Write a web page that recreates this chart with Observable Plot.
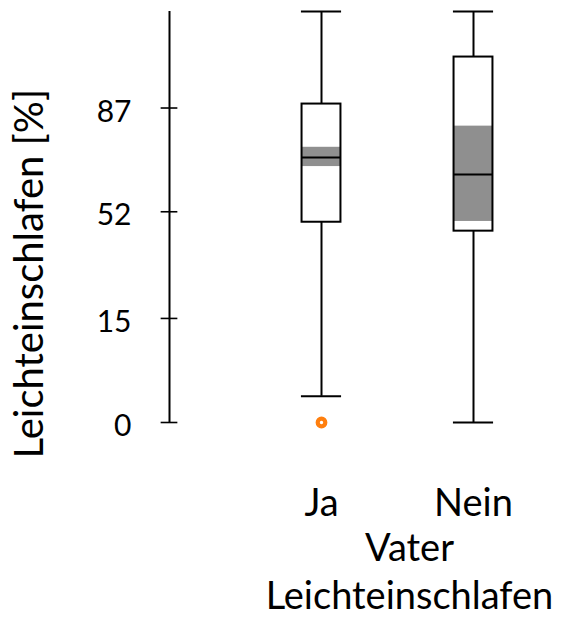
<!DOCTYPE html>
<html>
<head>
<meta charset="utf-8">
<script src="https://cdn.jsdelivr.net/npm/d3@7"></script>
<script src="https://cdn.jsdelivr.net/npm/@observablehq/plot@0.6"></script>
<style>
  html, body { margin: 0; padding: 0; background: white; }
</style>
</head>
<body>
<div id="chart"></div>
<script>
// ---- data (values in %) ----
const categories = ["Ja", "Nein"];
const whiskerLow  = [1, 0];
const quartile1   = [48, 44.6];
const median      = [72, 66];
const quartile3   = [88, 97];
const whiskerHigh = [100, 100];
const notchLow    = [68.8, 48.3];
const notchHigh   = [75.4, 82];
const outlierCategory = ["Ja"];
const outlierValue    = [0];
const yTickValues = [0, 15, 52, 87];
const yTitle = "Leichteinschlafen [%]";
const xTitle = "Vater\nLeichteinschlafen";

// arcsine-square-root transform used for the vertical axis
const T = p => Math.asin(Math.sqrt(p / 100));

const boxes = categories.map((c, i) => ({
  pos: i + 1, lo: whiskerLow[i], q1: quartile1[i], med: median[i],
  q3: quartile3[i], hi: whiskerHigh[i], nlo: notchLow[i], nhi: notchHigh[i]
}));
const outliers = outlierCategory.map((c, i) => ({pos: categories.indexOf(c) + 1, v: outlierValue[i]}));

const hw = 0.128;   // half box width (x units)
const cw = 0.132;   // half cap width
const tk = 0.055;   // half axis tick length

const chart = Plot.plot({
  width: 563,
  height: 618,
  marginLeft: 169,
  marginRight: 14,
  marginTop: 11,
  marginBottom: 196,
  x: {domain: [0, 2.5], axis: null},
  y: {domain: [0, Math.PI / 2], axis: null},
  style: {fontFamily: "Lato, 'Open Sans', sans-serif", background: "white", color: "black"},
  marks: [
    // y axis line and ticks
    Plot.ruleX([0], {y1: 0, y2: Math.PI / 2, stroke: "black", strokeWidth: 2}),
    Plot.ruleY(yTickValues, {y: d => T(d), x1: -tk, x2: tk, stroke: "black", strokeWidth: 1.6}),
    Plot.text(yTickValues, {y: d => T(d), x: 0, text: d => String(d), textAnchor: "end", dx: -38, dy: 4, fontSize: 30, fill: "black"}),
    // whiskers
    Plot.ruleX(boxes, {x: "pos", y1: d => T(d.q3), y2: d => T(d.hi), stroke: "black", strokeWidth: 2}),
    Plot.ruleX(boxes, {x: "pos", y1: d => T(d.lo), y2: d => T(d.q1), stroke: "black", strokeWidth: 2}),
    Plot.ruleY(boxes, {y: d => T(d.hi), x1: d => d.pos - cw, x2: d => d.pos + cw, stroke: "black", strokeWidth: 2}),
    Plot.ruleY(boxes, {y: d => T(d.lo), x1: d => d.pos - cw, x2: d => d.pos + cw, stroke: "black", strokeWidth: 2}),
    // box
    Plot.rect(boxes, {x1: d => d.pos - hw, x2: d => d.pos + hw, y1: d => T(d.q1), y2: d => T(d.q3), fill: "white"}),
    Plot.rect(boxes, {x1: d => d.pos - hw, x2: d => d.pos + hw, y1: d => T(Math.max(d.nlo, d.q1)), y2: d => T(Math.min(d.nhi, d.q3)), fill: "#8f8f8f"}),
    Plot.rect(boxes, {x1: d => d.pos - hw, x2: d => d.pos + hw, y1: d => T(d.q1), y2: d => T(d.q3), fill: "none", stroke: "black", strokeWidth: 2}),
    Plot.ruleY(boxes, {y: d => T(d.med), x1: d => d.pos - hw, x2: d => d.pos + hw, stroke: "black", strokeWidth: 2}),
    // outliers
    Plot.dot(outliers, {x: "pos", y: d => T(d.v), r: 3.8, fill: "white", stroke: "#ff7f0e", strokeWidth: 4.2}),
    // category labels
    Plot.text(boxes, {x: "pos", y: 0, text: (d, i) => categories[i], dx: (0), dy: 93, lineAnchor: "bottom", fontSize: 38, fill: "black"}),
    // axis titles
    Plot.text([xTitle], {frameAnchor: "bottom", dx: 50, dy: 186, lineAnchor: "bottom", lineHeight: 1.26, fontSize: 38, fill: "black"}),
    Plot.text([yTitle], {x: () => -0.835, y: () => 0.569, rotate: -90, textAnchor: "middle", lineAnchor: "bottom", fontSize: 40, fill: "black"})
  ]
});
document.getElementById("chart").appendChild(chart);
</script>
</body>
</html>
